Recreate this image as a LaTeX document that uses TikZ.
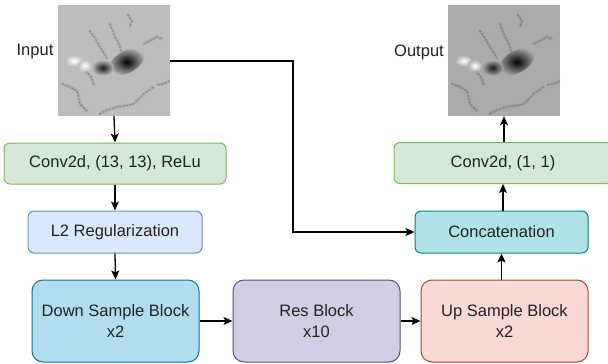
\documentclass[tikz,border=0pt]{standalone}
\usepackage{fontspec}
\setmainfont{Liberation Sans}
\usetikzlibrary{arrows.meta}
\definecolor{gfill}{HTML}{D5E8D4}\definecolor{gdraw}{HTML}{82B366}
\definecolor{bfill}{HTML}{DAE8FC}\definecolor{bdraw}{HTML}{6C8EBF}
\definecolor{dfill}{HTML}{B1DDF0}\definecolor{ddraw}{HTML}{10739E}
\definecolor{rfill}{HTML}{D0CEE2}\definecolor{rdraw}{HTML}{56517E}
\definecolor{ufill}{HTML}{FAD9D5}\definecolor{udraw}{HTML}{AE4132}
\definecolor{cfill}{HTML}{B0E3E6}\definecolor{cdraw}{HTML}{0E8088}
\definecolor{txt}{HTML}{222222}
\definecolor{imgA}{HTML}{BDBDBD}
\definecolor{imgB}{HTML}{ABABAB}
\newcommand{\filaments}{%
      \draw (32,26) -- (37,33) -- (42,42) -- (46,48) -- (49,53);
      \draw (52,19) -- (55,26) -- (57,32) -- (60,37) -- (62,42) -- (64,48);
      \draw (86,39) -- (92,36) -- (99,32) -- (104,34);
      \draw (4,79) -- (12,82) -- (19,86) -- (21,93) -- (22,99) -- (29,106);
      \draw (42,109) -- (50,105) -- (59,102) -- (68,101) -- (76,99) -- (82,93) -- (86,89) -- (96,82);
      \draw (100,80) -- (106,79) -- (112,76);
      \draw (28,66) -- (33,72) -- (36,80);
      \draw (70,10) -- (74,16) -- (72,22);}
\newcommand{\sunpic}[3]{%
  \node[fill=#3, minimum width=112pt, minimum height=111pt, inner sep=0pt] (#1) at #2 {};
  \begin{scope}
  \clip (#1.north west) rectangle (#1.south east);
  \begin{scope}[shift={(#1.north west)}]
    \begin{scope}[draw=black!60, line width=3.5pt, opacity=.14, line cap=round, line join=round]
      \filaments
    \end{scope}
    \begin{scope}[draw=black!80, line width=1.1pt, opacity=.35, line cap=round, line join=round, dash pattern=on 1.5pt off 2pt]
      \filaments
    \end{scope}
    \shade[rotate around={30:(69,57)}, inner color=black, outer color=#3] (69,57) ellipse [x radius=19, y radius=11];
    \shade[inner color=black!90, outer color=#3] (45,63) ellipse [x radius=11, y radius=8];
    \shade[inner color=white, outer color=#3] (16,56) ellipse [x radius=9, y radius=6];
    \shade[inner color=white, outer color=#3] (27,61) ellipse [x radius=7, y radius=6];
  \end{scope}
  \end{scope}}
\begin{document}
\begin{tikzpicture}[x=1pt,y=-1pt,
  box/.style={rounded corners=6pt, line width=1pt, inner sep=0pt, align=center,
     text=txt, font=\fontsize{16.5}{21}\selectfont},
  smallbox/.style={box, minimum height=41pt},
  bigbox/.style={box, rounded corners=11pt, minimum width=167pt, minimum height=82pt},
  conn/.style={line width=1.3pt, -{Stealth[length=9pt,width=8pt,inset=2pt]}},
  lbl/.style={text=txt, font=\fontsize{16.5}{21}\selectfont, inner sep=0pt}]
\useasboundingbox (0,0) rectangle (608,364);
\fill[white] (0,0) rectangle (608,364);

\sunpic{inimg}{(114,60.5)}{imgA}
\sunpic{outimg}{(504,60.5)}{imgB}
\node[lbl] (inlbl) at (35,52) {Input};
\node[lbl] (outlbl) at (419,52) {Output};

\node[smallbox, fill=gfill, draw=gdraw, minimum width=222pt] (conv1) at (115,163.5) {Conv2d, (13, 13), ReLu};
\node[smallbox, fill=bfill, draw=bdraw, minimum width=174pt, minimum height=42pt] (l2) at (115,232) {L2 Regularization};
\node[bigbox, fill=dfill, draw=ddraw] (down) at (115.5,321) {Down Sample Block\\x2};
\node[bigbox, fill=rfill, draw=rdraw] (res) at (316.5,321) {Res Block\\x10};
\node[bigbox, fill=ufill, draw=udraw] (up) at (504.5,321) {Up Sample Block\\x2};
\node[smallbox, fill=cfill, draw=cdraw, minimum width=173pt, minimum height=42pt] (cat) at (501.5,232) {Concatenation};
\node[smallbox, fill=gfill, draw=gdraw, minimum width=218pt] (conv2) at (503,163) {Conv2d, (1, 1)};

\coordinate (k1) at (293,61);
\coordinate (k2) at (293,232);

\draw[conn] (inimg.south) -- (conv1.north);
\draw[conn] (conv1.south) -- (l2.north);
\draw[conn] (l2.south) -- (down.north);
\draw[conn] (down.east) -- (res.west);
\draw[conn] (res.east) -- (up.west);
\draw[conn] (up.north -| cat.south) -- (cat.south);
\draw[conn] (cat.north -| conv2.south) -- (conv2.south);
\draw[conn] (conv2.north -| outimg.south) -- (outimg.south);
\draw[conn] (inimg.east |- k1) -- (k1) -- (k2) -- (cat.west);
\end{tikzpicture}
\end{document}
